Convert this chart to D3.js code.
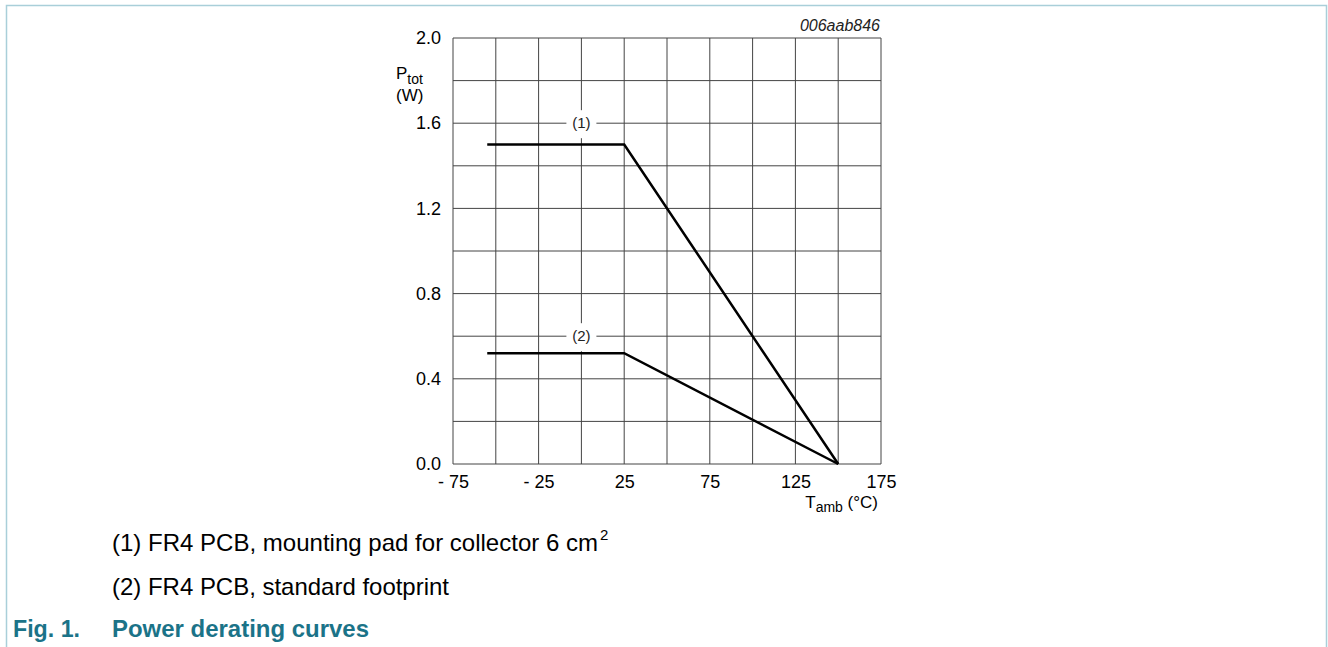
<!DOCTYPE html>
<html>
<head>
<meta charset="utf-8">
<script src="https://cdn.jsdelivr.net/npm/d3@7"></script>
<style>
  body { margin: 0; background: #fff; }
  svg { display: block; font-family: "Liberation Sans", Arial, sans-serif; }
</style>
</head>
<body>
<svg id="chart" width="1328" height="647"></svg>
<script>
// data
var tempTicks = [-75, -25, 25, 75, 125, 175];
var tempGrid = [-75, -50, -25, 0, 25, 50, 75, 100, 125, 150, 175];
var powerTicks = [0.0, 0.4, 0.8, 1.2, 1.6, 2.0];
var powerGrid = [0.0, 0.2, 0.4, 0.6, 0.8, 1.0, 1.2, 1.4, 1.6, 1.8, 2.0];
var curve1 = [{t: -55, p: 1.5}, {t: 25, p: 1.5}, {t: 150, p: 0}];
var curve2 = [{t: -55, p: 0.52}, {t: 25, p: 0.52}, {t: 150, p: 0}];
var curveLabels = [{name: "(1)", t: 0, p: 1.6}, {name: "(2)", t: 0, p: 0.6}];
var legendLines = ["(1) FR4 PCB, mounting pad for collector 6 cm", "(2) FR4 PCB, standard footprint"];
var legendWidths = [486, 337];

var svg = d3.select("#chart");

// page frame
svg.append("path")
  .attr("d", "M6.5,647 V5.5 H1326.5 V647")
  .attr("fill", "none")
  .attr("stroke", "#a9cfd9")
  .attr("stroke-width", 1.5);

var x = d3.scaleLinear().domain([-75, 175]).range([453, 881]);
var y = d3.scaleLinear().domain([0, 2]).range([464, 38]);

var grid = svg.append("g");
grid.selectAll("line.v").data(tempGrid).enter().append("line")
  .attr("class", "v")
  .attr("x1", function(d) { return x(d); })
  .attr("x2", function(d) { return x(d); })
  .attr("y1", y(0))
  .attr("y2", y(2))
  .attr("stroke", "#444")
  .attr("stroke-width", 1);
grid.selectAll("line.h").data(powerGrid).enter().append("line")
  .attr("class", "h")
  .attr("y1", function(d) { return y(d); })
  .attr("y2", function(d) { return y(d); })
  .attr("x1", x(-75))
  .attr("x2", x(175))
  .attr("stroke", "#444")
  .attr("stroke-width", 1);

// curve labels sit on the grid with a white patch
var lab = svg.selectAll("g.lab").data(curveLabels).enter().append("g")
  .attr("class", "lab")
  .attr("transform", function(d) { return "translate(" + x(d.t) + "," + y(d.p) + ")"; });
lab.append("rect")
  .attr("x", -15).attr("y", -13).attr("width", 30).attr("height", 28)
  .attr("fill", "#fff");
lab.append("text")
  .attr("text-anchor", "middle")
  .attr("dy", "0.35em")
  .attr("font-size", 15)
  .attr("fill", "#222")
  .text(function(d) { return d.name; });

var line = d3.line()
  .x(function(d) { return x(d.t); })
  .y(function(d) { return y(d.p); });

[curve1, curve2].forEach(function(c) {
  svg.append("path")
    .attr("d", line(c))
    .attr("fill", "none")
    .attr("stroke", "#000")
    .attr("stroke-width", 2.5)
    .attr("stroke-linejoin", "miter");
});

// axes as text
var xAxis = d3.axisBottom(x).tickValues(tempTicks).tickSize(0).tickPadding(11)
  .tickFormat(function(d) { return d < 0 ? "- " + Math.abs(d) : d; });
var gx = svg.append("g").attr("transform", "translate(0," + y(0) + ")").call(xAxis);
gx.select(".domain").remove();
gx.selectAll("text").attr("font-size", 18).attr("fill", "#000").attr("font-family", "Liberation Sans, Arial, sans-serif");

var yAxis = d3.axisLeft(y).tickValues(powerTicks).tickSize(0).tickPadding(12)
  .tickFormat(d3.format(".1f"));
var gy = svg.append("g").attr("transform", "translate(" + x(-75) + ",0)").call(yAxis);
gy.select(".domain").remove();
gy.selectAll("text").attr("font-size", 18).attr("fill", "#000").attr("font-family", "Liberation Sans, Arial, sans-serif");

// axis titles
var yt = svg.append("text").attr("x", 396).attr("y", 79).attr("font-size", 17);
yt.append("tspan").text("P");
yt.append("tspan").attr("dy", 5).attr("font-size", 14).text("tot");
svg.append("text").attr("x", 396).attr("y", 101).attr("font-size", 17).text("(W)");

var xt = svg.append("text").attr("x", 878).attr("y", 508).attr("font-size", 17).attr("text-anchor", "end");
xt.append("tspan").text("T");
xt.append("tspan").attr("dy", 4).attr("font-size", 14).text("amb");
xt.append("tspan").attr("dy", -4).text(" (°C)");

svg.append("text")
  .attr("x", 880).attr("y", 31)
  .attr("text-anchor", "end")
  .attr("font-size", 16)
  .attr("font-style", "italic")
  .attr("fill", "#222")
  .text("006aab846");

// legend notes
svg.selectAll("text.note").data(legendLines).enter().append("text")
  .attr("class", "note")
  .attr("x", 112)
  .attr("y", function(d, i) { return 551 + i * 44; })
  .attr("font-size", 24)
  .attr("fill", "#000")
  .attr("textLength", function(d, i) { return legendWidths[i]; })
  .attr("lengthAdjust", "spacingAndGlyphs")
  .text(function(d) { return d; });
svg.append("text").attr("x", 112 + legendWidths[0] + 2).attr("y", 540)
  .attr("font-size", 15).text("2");

// caption
svg.append("text").attr("x", 13).attr("y", 637)
  .attr("font-size", 24).attr("font-weight", "bold").attr("fill", "#1b7388")
  .attr("textLength", 67).attr("lengthAdjust", "spacingAndGlyphs")
  .text("Fig. 1.");
svg.append("text").attr("x", 112).attr("y", 637)
  .attr("font-size", 24).attr("font-weight", "bold").attr("fill", "#1b7388")
  .attr("textLength", 257).attr("lengthAdjust", "spacingAndGlyphs")
  .text("Power derating curves");
</script>
</body>
</html>
